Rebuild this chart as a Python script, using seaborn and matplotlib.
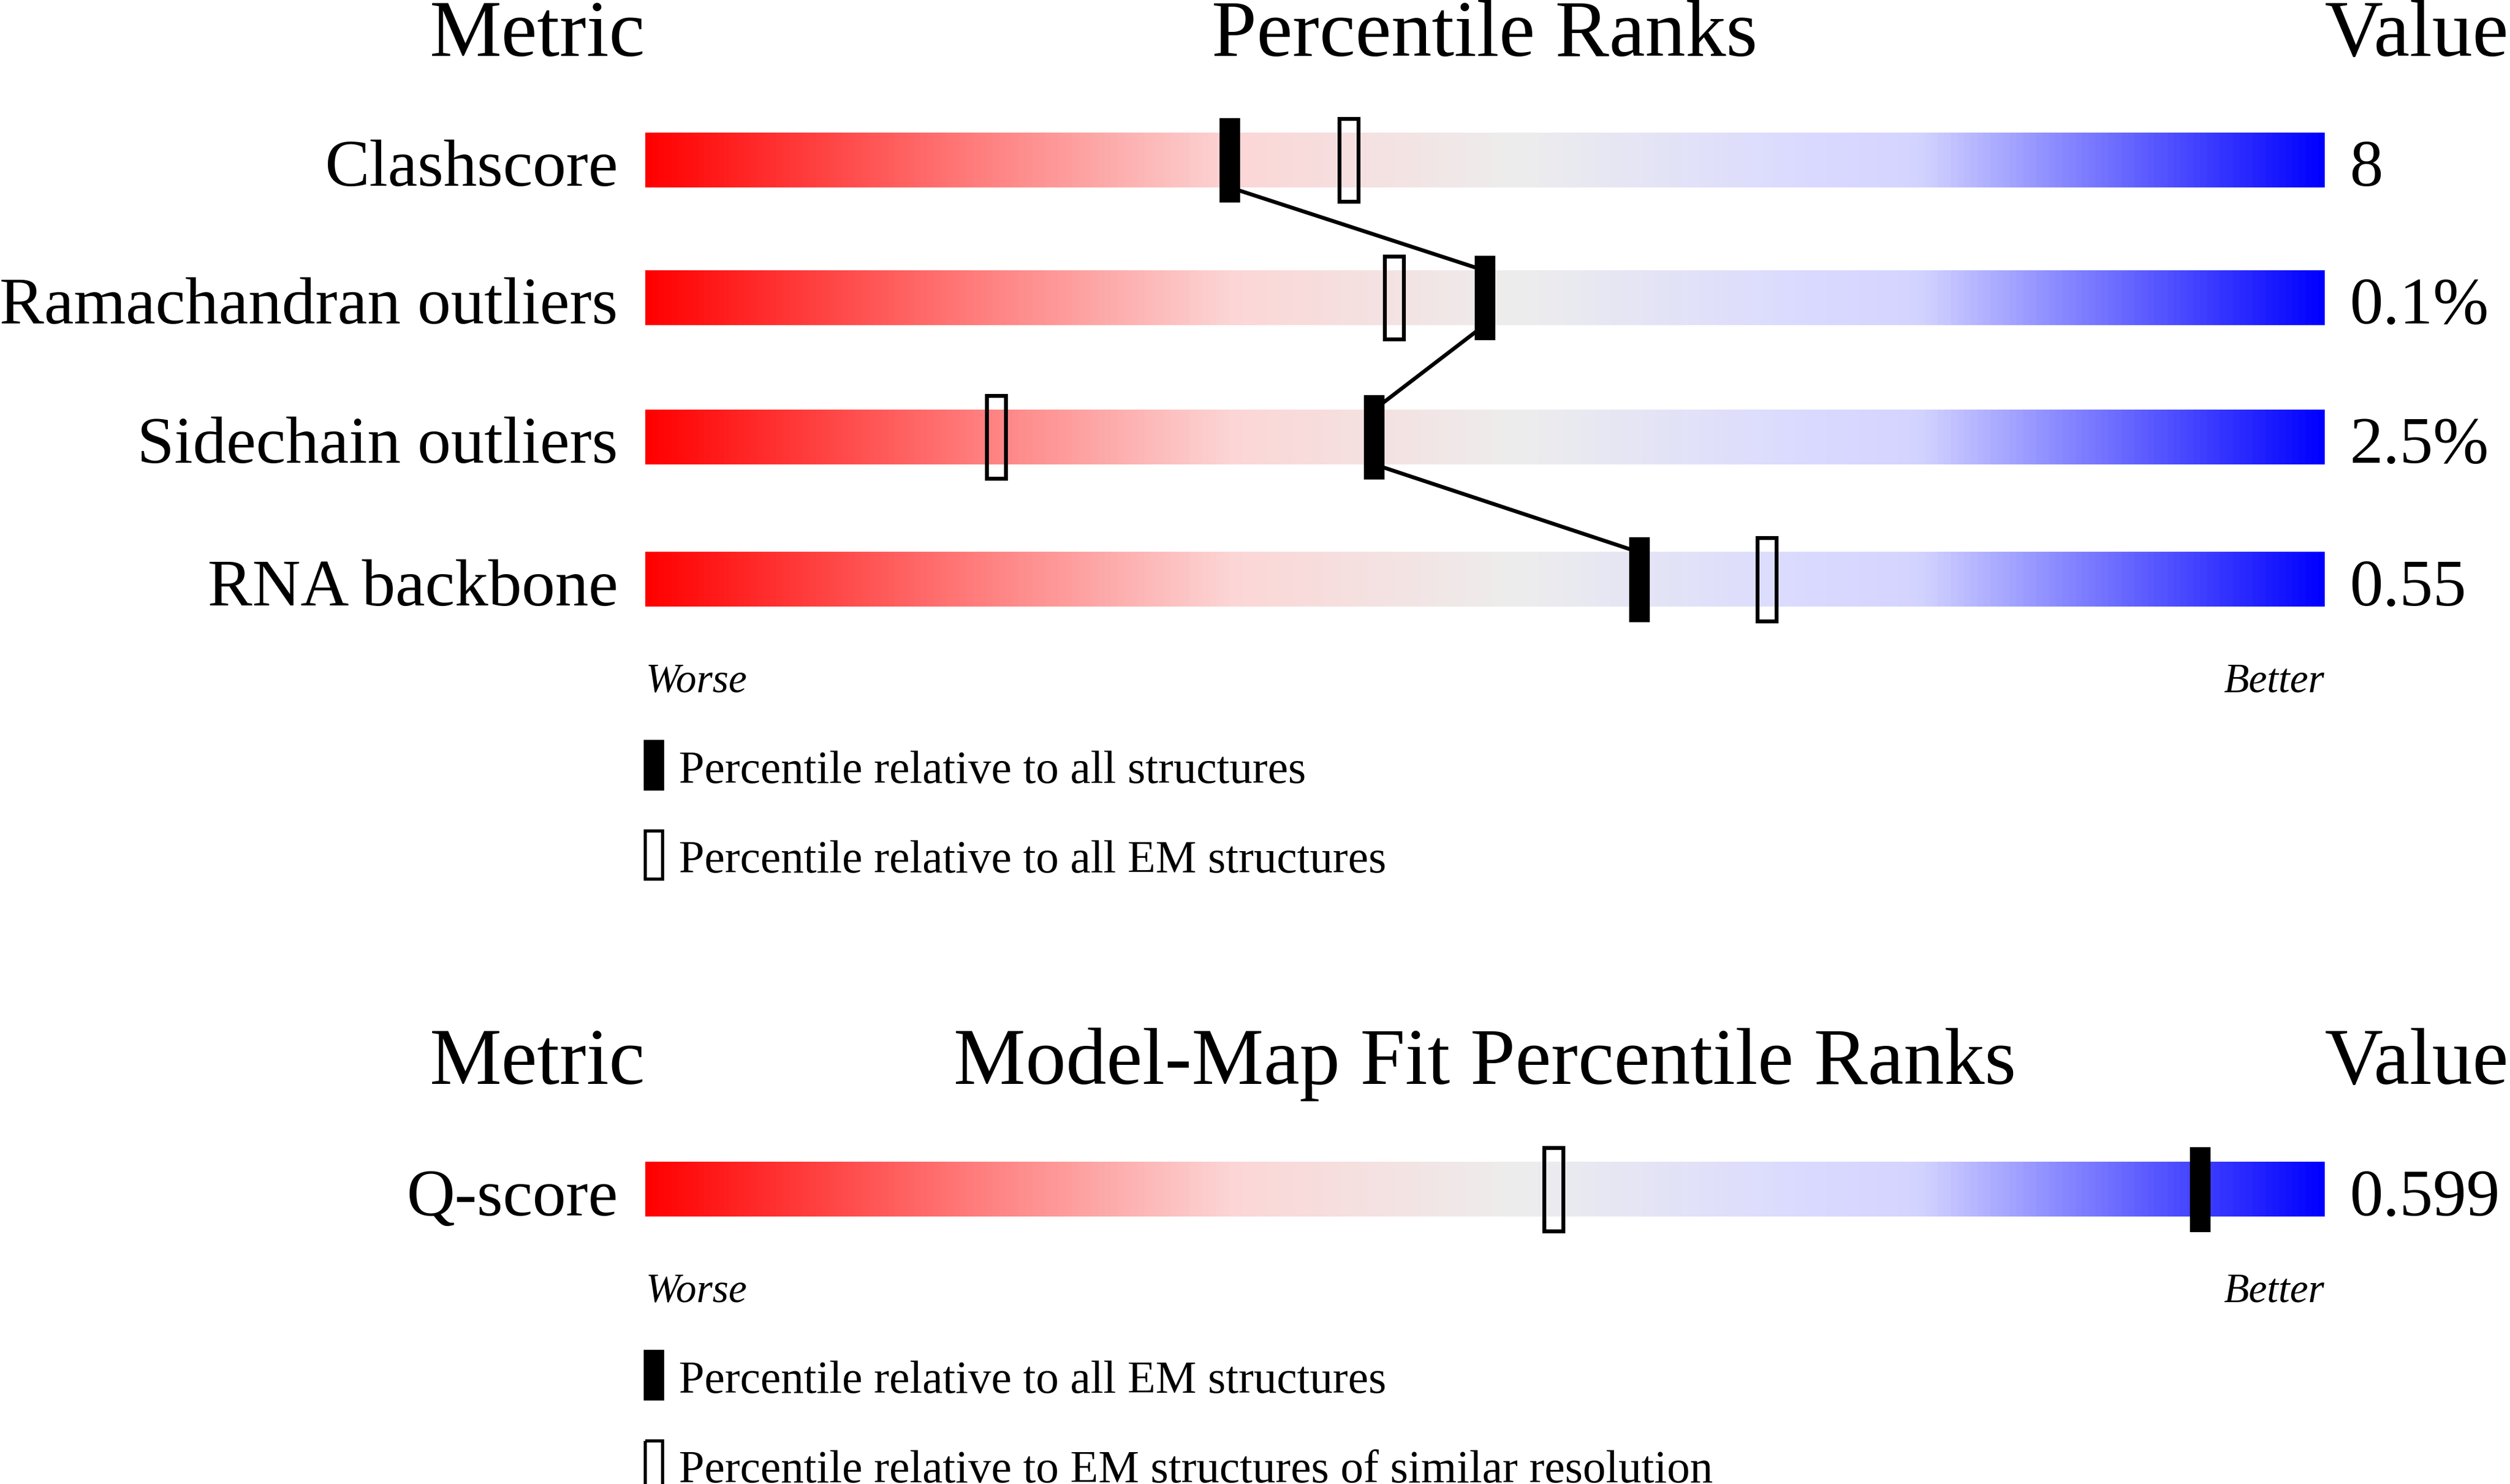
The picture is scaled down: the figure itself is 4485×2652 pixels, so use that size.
import numpy as np
import matplotlib
matplotlib.use('Agg')
import matplotlib.pyplot as plt
import seaborn as sns
from matplotlib.colors import LinearSegmentedColormap
from matplotlib.patches import Rectangle

metrics = ['Clashscore', 'Ramachandran outliers', 'Sidechain outliers', 'RNA backbone']
values = ['8', '0.1%', '2.5%', '0.55']
pct_all = [34.8, 50.0, 43.4, 59.2]
pct_em = [41.9, 44.6, 20.9, 66.8]
row_y = [100, 186, 273, 362]

fit_metrics = ['Q-score']
fit_values = ['0.599']
fit_pct_em = [92.6]
fit_pct_res = [54.1]
fit_y = [743]

sns.set_theme(style='white')
plt.rcParams['font.family'] = ['Liberation Serif', 'DejaVu Serif']
plt.rcParams['text.color'] = 'black'

W, H = 1568, 927
x0, x1 = 403, 1452
u = 100 / (x1 - x0)  # percent per pixel

fig = plt.figure(figsize=(44.85, 26.52), dpi=100)
ax = fig.add_axes([0, 0, 1, 1])
ax.set_xlim(-x0 * u, (W - x0) * u)
ax.set_ylim(H, 0)
ax.axis('off')

cmap = LinearSegmentedColormap.from_list('wb', [
    (0.0, (1, 0, 0)), (0.2, (1, 0.5, 0.5)), (0.35, (0.99, 0.84, 0.84)),
    (0.52, (0.93, 0.93, 0.93)), (0.68, (0.86, 0.86, 1.0)),
    (0.76, (0.83, 0.83, 1.0)), (1.0, (0, 0, 1))])
grad = np.linspace(0, 1, 512).reshape(1, -1)

bar_h, mk_h, mk_w = 34, 52, 12 * u
big, lab, small, leg = 104, 86, 53, 59


def section(names, vals, ys, black, hollow, title, top, legend_texts, connect):
    ax.text(0, top + 3, 'Metric', ha='right', va='center', fontsize=big)
    ax.text(50, top + 3, title, ha='center', va='center', fontsize=big)
    ax.text(100, top + 3, 'Value', ha='left', va='center', fontsize=big)
    for n, v, y, b, h in zip(names, vals, ys, black, hollow):
        ax.imshow(grad, cmap=cmap, aspect='auto',
                  extent=(0, 100, y + bar_h / 2, y - bar_h / 2), zorder=1)
        ax.text(-17 * u, y + 6, n, ha='right', va='center', fontsize=lab)
        ax.text(100 + 16 * u, y + 6, v, ha='left', va='center', fontsize=lab)
        ax.add_patch(Rectangle((h - mk_w / 2, y - mk_h / 2), mk_w, mk_h,
                               facecolor='none', edgecolor='black', lw=5, zorder=3))
        ax.add_patch(Rectangle((b - mk_w / 2, y - mk_h / 2), mk_w, mk_h,
                               facecolor='black', edgecolor='black', lw=2, zorder=4))
    if connect:
        for i in range(len(ys) - 1):
            ax.plot([black[i], black[i + 1]], [ys[i] + 17, ys[i + 1] - 17],
                    color='black', lw=5, zorder=2)
    yb = ys[-1] + 64
    ax.text(0, yb, 'Worse', ha='left', va='center', fontsize=small, style='italic')
    ax.text(100, yb, 'Better', ha='right', va='center', fontsize=small, style='italic')
    for k, t in enumerate(legend_texts):
        ly = yb + 52 + k * 56
        ax.add_patch(Rectangle((0, ly - 15), 11 * u, 30,
                               facecolor='black' if k == 0 else 'none',
                               edgecolor='black', lw=4))
        ax.text(21 * u, ly + 4, t, ha='left', va='center', fontsize=leg)


section(metrics, values, row_y, pct_all, pct_em, 'Percentile Ranks', 20,
        ['Percentile relative to all structures',
         'Percentile relative to all EM structures'], True)
section(fit_metrics, fit_values, fit_y, fit_pct_em, fit_pct_res,
        'Model-Map Fit Percentile Ranks', 662,
        ['Percentile relative to all EM structures',
         'Percentile relative to EM structures of similar resolution'], False)

fig.savefig('out.png', dpi=100, facecolor='white')
